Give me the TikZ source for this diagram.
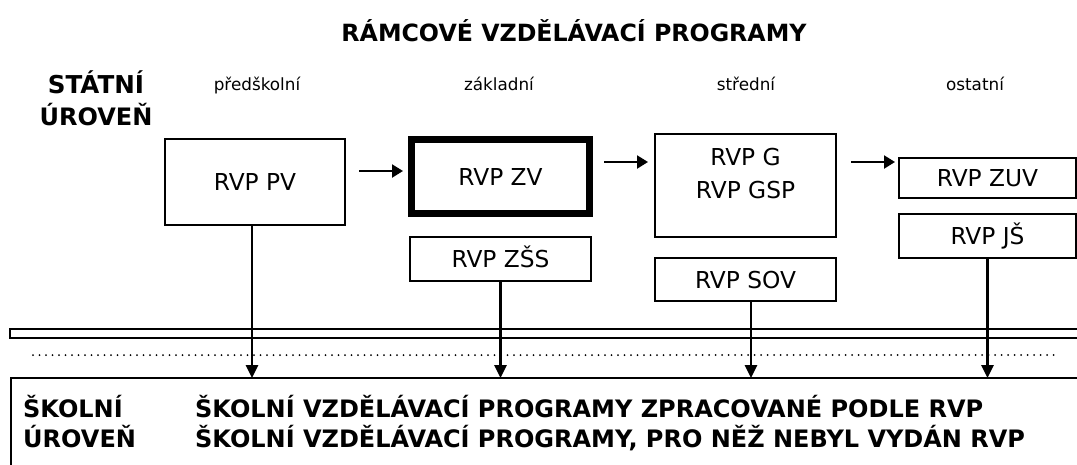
\documentclass[tikz,border=0pt]{standalone}
\usepackage{fontspec}
\setmainfont{DejaVu Sans}
\usetikzlibrary{arrows.meta,calc}
\begin{document}
\begin{tikzpicture}[x=1pt,y=-1pt,
  box/.style={draw=black, line width=1.6pt, inner sep=0pt, outer sep=0pt,
    font=\fontsize{23.3}{33}\selectfont, text height=17pt, text depth=0pt, align=center},
  hdr/.style={font=\fontsize{16.8}{18}\selectfont, anchor=base, inner sep=0pt},
  big/.style={font=\bfseries\fontsize{24}{30}\selectfont, inner sep=0pt},
  harr/.style={line width=2.2pt, -{Triangle[length=11pt,width=13pt]}},
  varr/.style={line width=2.6pt, -{Triangle[length=13pt,width=12pt]}}]
\useasboundingbox (0,0) rectangle (1077,464);
\clip (0,0) rectangle (1077,464);
\fill[white] (0,0) rectangle (1077,464);

% titles
\node[big, anchor=base, font=\bfseries\fontsize{23.7}{30}\selectfont] (title) at (574,41) {RÁMCOVÉ VZDĚLÁVACÍ PROGRAMY};
\node[big, anchor=base, font=\bfseries\fontsize{24.6}{30}\selectfont] (st1) at (96,93) {STÁTNÍ};
\node[big, anchor=base] (st2) at (96,125) {ÚROVEŇ};
\node[hdr] (h1) at (257,90) {předškolní};
\node[hdr] (h2) at (499,90) {základní};
\node[hdr] (h3) at (746,90) {střední};
\node[hdr] (h4) at (975,90) {ostatní};

% boxes
\node[box, minimum width=180pt, minimum height=86pt] (pv) at (255,182) {RVP PV};
\node[box, line width=7pt, minimum width=178pt, minimum height=74pt] (zv) at (500.5,176.5) {RVP ZV};
\node[box, minimum width=181pt, minimum height=44pt] (zss) at (500.5,259) {RVP ZŠS};
\node[box, minimum width=181pt, minimum height=103pt] (g) at (745.5,185.5) {};
\node[anchor=north, inner sep=0pt, align=center, font=\fontsize{23.3}{33}\selectfont] (gt) at (745.5,148) {RVP G\\RVP GSP};
\node[box, minimum width=181pt, minimum height=43pt] (sov) at (745.5,279.5) {RVP SOV};
\node[box, minimum width=177pt, minimum height=40pt] (zuv) at (987.5,178) {RVP ZUV};
\node[box, minimum width=177pt, minimum height=44pt] (js) at (987.5,236) {RVP JŠ};

% separators
\node[draw=black, line width=1.4pt, anchor=north west, minimum width=1100pt, minimum height=9pt, inner sep=0pt, outer sep=0pt] (dbl) at (10,329) {};
\draw[line width=2pt, line cap=round, dash pattern=on 0pt off 6.5pt] (33,355) -- (1060,355);
\node[draw=black, line width=2.6pt, anchor=north west, minimum width=1100pt, minimum height=120pt, inner sep=0pt, outer sep=0pt] (bot) at (11,378) {};

% horizontal arrows
\draw[harr] ([xshift=14pt,yshift=11pt]pv.east) -- ([xshift=-8.5pt,yshift=5.5pt]zv.west);
\draw[harr] ([xshift=14.5pt,yshift=14.5pt]zv.east) -- ([xshift=-7pt,yshift=23.5pt]g.west);
\draw[harr] ([xshift=15pt,yshift=23.5pt]g.east) -- ([xshift=-4pt,yshift=16pt]zuv.west);

% vertical arrows
\draw[varr] ([xshift=-3pt]pv.south) -- ([xshift=-3pt]pv.south |- bot.north);
\draw[varr] (zss.south) -- (zss.south |- bot.north);
\draw[varr] ([xshift=5.5pt]sov.south) -- ([xshift=5.5pt]sov.south |- bot.north);
\draw[varr] (js.south) -- (js.south |- bot.north);

% bottom texts
\node[big, anchor=base west] (sk1) at (23,417) {ŠKOLNÍ};
\node[big, anchor=base west] (sk2) at (23,447) {ÚROVEŇ};
\node[big, anchor=base west] (sv1) at (195,417) {ŠKOLNÍ VZDĚLÁVACÍ PROGRAMY ZPRACOVANÉ PODLE RVP};
\node[big, anchor=base west] (sv2) at (195,447) {ŠKOLNÍ VZDĚLÁVACÍ PROGRAMY, PRO NĚŽ NEBYL VYDÁN RVP};
\end{tikzpicture}
\end{document}
